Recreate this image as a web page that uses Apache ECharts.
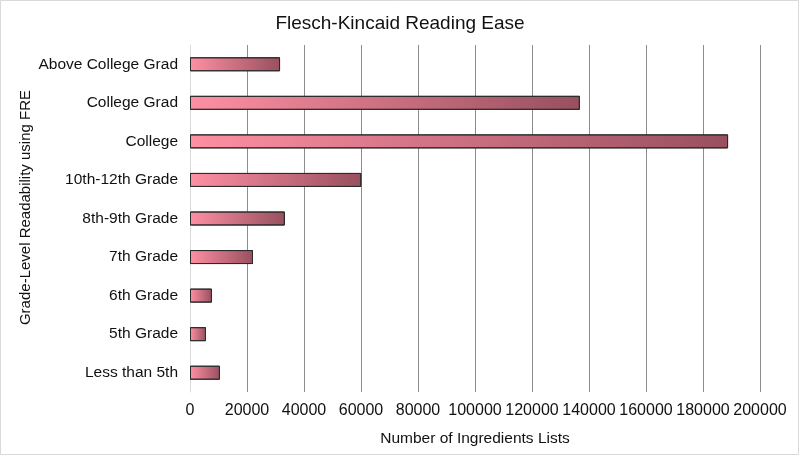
<!DOCTYPE html>
<html>
<head>
<meta charset="utf-8">
<script src="https://cdn.jsdelivr.net/npm/echarts@6/dist/echarts.min.js"></script>
<style>
  html, body { margin: 0; padding: 0; background: #fff; }
  #main { width: 800px; height: 456px; }
</style>
</head>
<body>
<div id="main"></div>
<script>
// categories, bottom to top as drawn on the category axis
var categories = ['Less than 5th', '5th Grade', '6th Grade', '7th Grade', '8th-9th Grade',
    '10th-12th Grade', 'College', 'College Grad', 'Above College Grad'];
var listCounts = [10500, 5600, 7700, 22100, 33300, 60100, 188800, 136800, 31600];
var xTicks = [0, 20000, 40000, 60000, 80000, 100000, 120000, 140000, 160000, 180000, 200000];

var fontName = 'Liberation Sans';
var textColor = '#111';

var myChart = echarts.init(document.getElementById('main'));

// 每根柱子自己的横向渐变
var barGradient = new echarts.graphic.LinearGradient(0, 0, 1, 0, [
    { offset: 0, color: '#ff8fa3' },
    { offset: 1, color: '#98505f' }
]);

var option = {
    backgroundColor: '#fff',
    title: {
        text: 'Flesch-Kincaid Reading Ease',
        left: 'center',
        top: 9,
        textStyle: { fontFamily: fontName, fontSize: 19, fontWeight: 'normal', color: textColor }
    },
    graphic: [{
        type: 'rect',
        shape: { x: 0.5, y: 0.5, width: 798, height: 454 },
        style: { fill: 'none', stroke: '#d9d9d9', lineWidth: 1 },
        silent: true
    }],
    grid: { left: 190, right: 40, top: 45, bottom: 64 },
    xAxis: {
        type: 'value',
        min: xTicks[0],
        max: xTicks[xTicks.length - 1],
        interval: xTicks[1] - xTicks[0],
        name: 'Number of Ingredients Lists',
        nameLocation: 'middle',
        nameGap: 39,
        nameMoveOverlap: false,
        nameTextStyle: { fontFamily: fontName, fontSize: 15.5, color: textColor },
        axisLine: { show: false },
        axisTick: { show: false },
        axisLabel: {
            fontFamily: fontName, fontSize: 16, color: textColor, margin: 11,
            formatter: function (v) { return String(v); }
        },
        splitLine: { show: true, lineStyle: { color: '#8c8c8c', width: 1 } }
    },
    yAxis: {
        type: 'category',
        data: categories,
        name: 'Grade-Level Readability using FRE',
        nameLocation: 'middle',
        nameGap: 157,
        nameMoveOverlap: false,
        nameTextStyle: { fontFamily: fontName, fontSize: 15, color: textColor, padding: [0, 0, 0, 22] },
        axisLine: { show: true, lineStyle: { color: '#d9d9d9', width: 1 } },
        axisTick: { show: false },
        axisLabel: { fontFamily: fontName, fontSize: 15.5, color: textColor, margin: 12 }
    },
    series: [{
        name: 'Ingredients Lists',
        type: 'bar',
        data: listCounts,
        barWidth: 14,
        z: 3,
        itemStyle: {
            color: barGradient,
            borderColor: '#2b2b2b',
            borderWidth: 1
        }
    }]
};

myChart.setOption(option);

window.addEventListener('resize', function () {
    myChart.resize();
});
</script>
</body>
</html>
